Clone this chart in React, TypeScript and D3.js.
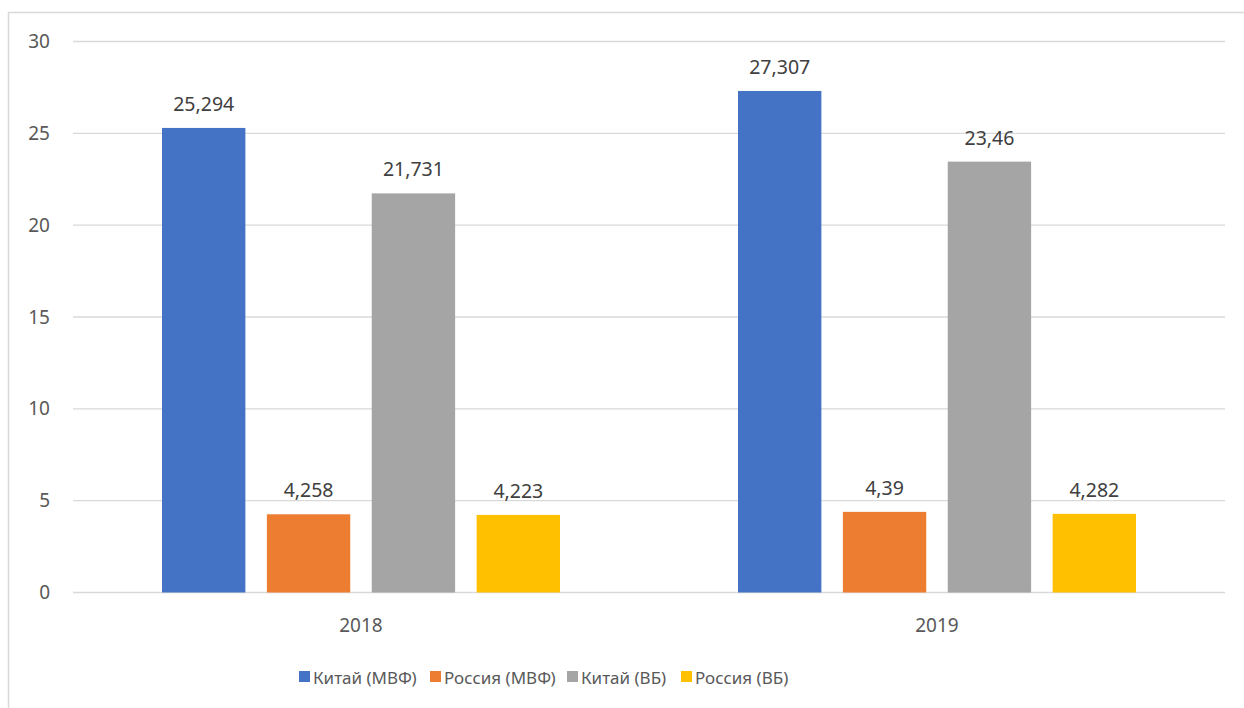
import React, { useEffect, useRef } from 'react';
import * as d3 from 'd3';

const years = ['2018', '2019'];
const seriesNames = ['Китай (МВФ)', 'Россия (МВФ)', 'Китай (ВБ)', 'Россия (ВБ)'];
const chinaImf = [25.294, 27.307];
const russiaImf = [4.258, 4.39];
const chinaWb = [21.731, 23.46];
const russiaWb = [4.223, 4.282];
const yTicks = [0, 5, 10, 15, 20, 25, 30];

const colors = ['#4472C4', '#ED7D31', '#A5A5A5', '#FFC000'];

const W = 1244;
const H = 708;
const FONT = "'Noto Sans', 'Open Sans', sans-serif";

const App: React.FC = () => {
  const svgRef = useRef<SVGSVGElement>(null);

  useEffect(() => {
    if (!svgRef.current) return;
    const svg = d3.select(svgRef.current);
    svg.selectAll('*').remove();

    const values = [chinaImf, russiaImf, chinaWb, russiaWb];

    // chart frame
    svg.append('rect')
      .attr('x', 8.5).attr('y', 12.5)
      .attr('width', W).attr('height', H)
      .attr('fill', '#fff')
      .attr('stroke', '#D9D9D9')
      .attr('stroke-width', 1.5);

    const x0 = d3.scaleBand().domain(years).range([73, 1225]);
    const x1 = d3.scaleBand().domain(seriesNames)
      .range([89, x0.bandwidth() - 89])
      .paddingInner(0.205);
    const y = d3.scaleLinear().domain([0, 30]).range([592.5, 41.5]);

    // gridlines
    svg.append('g')
      .selectAll('line')
      .data(yTicks)
      .join('line')
      .attr('x1', 73).attr('x2', 1225)
      .attr('y1', d => y(d)).attr('y2', d => y(d))
      .attr('stroke', '#D9D9D9')
      .attr('stroke-width', 1.3);

    // y tick labels
    svg.append('g')
      .selectAll('text')
      .data(yTicks)
      .join('text')
      .attr('x', 50)
      .attr('y', d => y(d))
      .attr('dy', '0.35em')
      .attr('text-anchor', 'end')
      .style('font-family', FONT)
      .style('font-size', '19px')
      .style('fill', '#595959')
      .text(d => String(d));

    // bars
    const groups = svg.append('g')
      .selectAll('g')
      .data(years)
      .join('g')
      .attr('transform', d => `translate(${x0(d)},0)`);

    groups.selectAll('rect')
      .data((_, i) => seriesNames.map((s, k) => ({ s, v: values[k][i], k })))
      .join('rect')
      .attr('x', d => x1(d.s)!)
      .attr('width', x1.bandwidth())
      .attr('y', d => y(d.v))
      .attr('height', d => y(0) - y(d.v))
      .attr('fill', d => colors[d.k]);

    groups.selectAll('text')
      .data((_, i) => seriesNames.map((s, k) => ({ s, v: values[k][i], k })))
      .join('text')
      .attr('x', d => x1(d.s)! + x1.bandwidth() / 2)
      .attr('y', d => y(d.v) - 17)
      .attr('text-anchor', 'middle')
      .style('font-family', FONT)
      .style('font-size', '19.5px')
      .style('fill', '#404040')
      .text(d => String(d.v).replace('.', ','));

    // year labels
    svg.append('g')
      .selectAll('text')
      .data(years)
      .join('text')
      .attr('x', d => x0(d)! + x0.bandwidth() / 2)
      .attr('y', 632)
      .attr('text-anchor', 'middle')
      .style('font-family', FONT)
      .style('font-size', '19px')
      .style('fill', '#595959')
      .text(d => d);

    // legend
    const legendX = [299, 430, 567, 681];
    const legend = svg.append('g')
      .selectAll('g')
      .data(seriesNames)
      .join('g')
      .attr('transform', (_, i) => `translate(${legendX[i]},0)`);

    legend.append('rect')
      .attr('x', 0).attr('y', 671)
      .attr('width', 11).attr('height', 11)
      .attr('fill', (_, i) => colors[i]);

    legend.append('text')
      .attr('x', 14)
      .attr('y', 684)
      .style('font-family', FONT)
      .style('font-size', '17px')
      .style('fill', '#595959')
      .text(d => d);
  }, []);

  return (
    <svg
      ref={svgRef}
      width={W}
      height={H}
      style={{ position: 'absolute', left: 0, top: 0, display: 'block', background: '#fff' }}
    />
  );
};

export default App;
